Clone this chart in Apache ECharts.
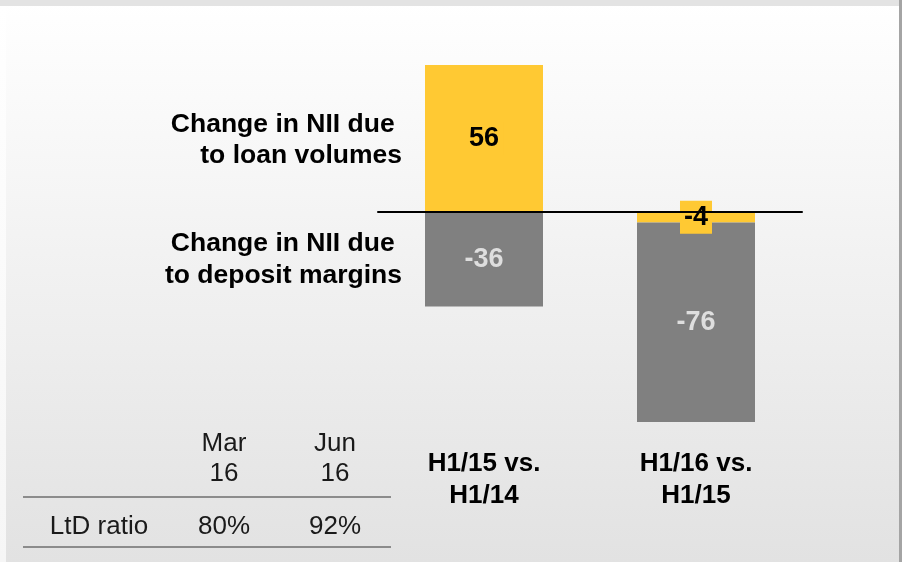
<!DOCTYPE html>
<html>
<head>
<meta charset="utf-8">
<script src="https://cdn.jsdelivr.net/npm/echarts@6/dist/echarts.min.js"></script>
<style>
  html, body { margin: 0; padding: 0; }
  #main { width: 902px; height: 562px; }
</style>
</head>
<body>
<div id="main"></div>
<script>
// data
var periods = ['H1/15 vs.\nH1/14', 'H1/16 vs.\nH1/15'];
var loanVolumes = [56, -4];
var depositMargins = [-36, -76];
var seriesNames = ['Change in NII due \nto loan volumes', 'Change in NII due \nto deposit margins'];

// small LtD table
var tableDates = ['Mar\n16', 'Jun\n16'];
var ltdLabel = 'LtD ratio';
var ltdValues = ['80%', '92%'];

var FONT = '"Liberation Sans", Arial, sans-serif';
var chart = echarts.init(document.getElementById('main'));

var colX = [224, 335];
var graphics = [
  // frame bits
  { type: 'rect', shape: { x: 0, y: 0, width: 902, height: 6 }, style: { fill: '#e3e3e3' }, z: 1 },
  { type: 'rect', shape: { x: 899, y: 0, width: 3, height: 562 }, style: { fill: '#a4a4a4' }, z: 1 },
  { type: 'rect', shape: { x: 0, y: 6, width: 6, height: 556 },
    style: { fill: new echarts.graphic.LinearGradient(0, 0, 0, 1, [
      { offset: 0, color: '#ffffff' }, { offset: 1, color: '#f6f6f6' }]) }, z: 1 },
  // series name labels
  { type: 'text', x: 402, y: 140, style: { text: seriesNames[0], textAlign: 'right', textVerticalAlign: 'middle',
      font: 'bold 26.5px ' + FONT, lineHeight: 31, fill: '#000' } },
  { type: 'text', x: 402, y: 260, style: { text: seriesNames[1], textAlign: 'right', textVerticalAlign: 'middle',
      font: 'bold 26.5px ' + FONT, lineHeight: 32, fill: '#000' } },
  // table rules
  { type: 'line', shape: { x1: 23, y1: 497, x2: 391, y2: 497 }, style: { stroke: '#6e6e6e', lineWidth: 1.5 } },
  { type: 'line', shape: { x1: 23, y1: 547, x2: 391, y2: 547 }, style: { stroke: '#6e6e6e', lineWidth: 1.5 } },
  { type: 'text', x: 99, y: 527, style: { text: ltdLabel, textAlign: 'center', textVerticalAlign: 'middle',
      font: '26px ' + FONT, fill: '#1a1a1a' } }
];
tableDates.forEach(function (d, i) {
  graphics.push({ type: 'text', x: colX[i], y: 459, style: { text: d, textAlign: 'center', textVerticalAlign: 'middle',
      font: '26px ' + FONT, lineHeight: 30, fill: '#1a1a1a' } });
});
ltdValues.forEach(function (v, i) {
  graphics.push({ type: 'text', x: colX[i], y: 527, style: { text: v, textAlign: 'center', textVerticalAlign: 'middle',
      font: '26px ' + FONT, fill: '#1a1a1a' } });
});

var option = {
  animation: false,
  backgroundColor: new echarts.graphic.LinearGradient(0, 0, 0, 1, [
    { offset: 0, color: '#ffffff' },
    { offset: 1, color: '#e2e2e2' }
  ]),
  grid: { left: 378, right: 100, top: 65, bottom: 140 },
  xAxis: [
    {
      type: 'category',
      data: periods,
      z: 10,
      axisLine: { show: true, onZero: true, lineStyle: { color: '#000', width: 2 } },
      axisTick: { show: false },
      axisLabel: { show: false }
    },
    {
      type: 'category',
      data: periods,
      position: 'bottom',
      axisLine: { show: false, onZero: false },
      axisTick: { show: false },
      axisLabel: {
        margin: 26,
        color: '#000',
        fontFamily: FONT,
        fontWeight: 'bold',
        fontSize: 26,
        lineHeight: 32
      }
    }
  ],
  yAxis: {
    type: 'value',
    min: -80,
    max: 56,
    show: false
  },
  series: [
    {
      name: 'loan',
      type: 'bar',
      stack: 'nii',
      barWidth: 118,
      data: loanVolumes,
      itemStyle: { color: '#ffc933' },
      label: {
        show: true,
        position: 'inside',
        color: '#000',
        fontFamily: FONT,
        fontWeight: 'bold',
        fontSize: 27,
        backgroundColor: '#ffc933',
        padding: [3, 4]
      }
    },
    {
      name: 'deposit',
      type: 'bar',
      stack: 'nii',
      barWidth: 118,
      data: depositMargins,
      itemStyle: { color: '#808080' },
      label: {
        show: true,
        position: 'inside',
        color: '#dedede',
        fontFamily: FONT,
        fontWeight: 'bold',
        fontSize: 27
      }
    }
  ],
  graphic: graphics
};
chart.setOption(option);
</script>
</body>
</html>
